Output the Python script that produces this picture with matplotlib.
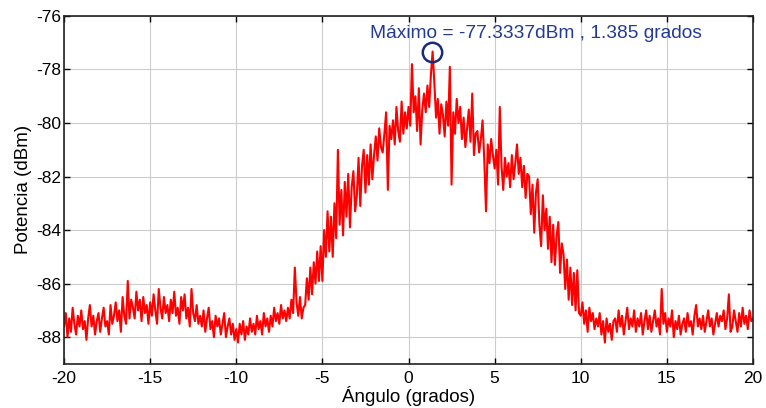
import numpy as np
import matplotlib
matplotlib.use("Agg")
import matplotlib.pyplot as plt

plt.rcParams['font.family'] = ['Liberation Sans', 'DejaVu Sans']
plt.rcParams['axes.unicode_minus'] = False

# Angle grid (grados) from -20 to 20 in 0.1 steps
angle_start, angle_stop, angle_step = -20.0, 20.0, 0.1

# Measured power (dBm), one row per degree
power = [
    -87.6, -87.1, -88.0, -87.3, -87.8, -86.9, -87.5, -87.9, -87.2, -87.6,
    -87.0, -87.7, -87.4, -88.1, -87.3, -86.8, -87.6, -87.2, -87.9, -87.4,
    -87.1, -87.8, -87.3, -86.9, -87.6, -87.4, -87.9, -86.8, -87.5, -87.2,
    -86.7, -87.4, -87.0, -87.8, -86.5, -87.2, -87.5, -85.9, -87.3, -86.6,
    -86.9, -87.3, -86.3, -87.0, -86.6, -87.4, -86.5, -87.1, -86.8, -87.5,
    -86.7, -87.2, -86.4, -87.0, -87.5, -86.2, -86.9, -87.3, -86.5, -87.1,
    -86.8, -87.4, -86.6, -87.1, -86.3, -87.2, -86.9, -87.5, -86.5, -87.0,
    -86.4, -87.3, -86.9, -87.6, -86.2, -87.1, -87.4, -86.8, -87.5, -87.2,
    -87.6, -87.0, -87.8, -87.3, -86.9, -87.7, -87.4, -88.0, -87.2, -87.6,
    -87.3, -87.9, -87.5, -87.1, -88.0, -87.6, -87.3, -87.9, -87.5, -88.1,
    -87.7, -88.2, -87.5, -87.9, -87.4, -88.1, -87.6, -87.9, -87.3, -87.8,
    -87.5, -87.9, -87.2, -87.7, -87.4, -87.9, -87.1, -87.6, -87.3, -87.8,
    -87.2, -87.6, -86.9, -87.4, -87.1, -87.5, -86.8, -87.3, -87.0, -87.4,
    -86.9, -87.3, -86.6, -87.1, -85.4, -86.7, -87.2, -86.5, -87.3, -86.9,
    -86.8, -85.8, -86.6, -85.4, -86.4, -85.2, -86.0, -84.8, -85.9, -84.6,
    -85.9, -84.0, -85.0, -83.3, -84.8, -83.5, -85.0, -83.0, -84.3, -81.0,
    -83.8, -82.5, -84.2, -82.2, -83.5, -81.9, -83.9, -82.4, -81.8, -83.3,
    -82.7, -81.3, -83.1, -81.6, -81.0, -82.6, -81.2, -82.3, -80.8, -82.1,
    -81.2, -80.5, -81.4, -80.2, -80.9, -81.1, -80.4, -79.6, -82.5, -80.1,
    -80.6, -79.9, -80.8, -79.4, -80.3, -80.7, -79.2, -80.4, -79.6, -80.2,
    -79.4, -80.1, -77.8, -79.6, -79.0, -80.3, -78.7, -80.8, -79.5, -78.9,
    -79.6, -78.6, -79.4, -78.2, -77.33, -78.5, -79.8, -79.1, -80.4, -79.3,
    -79.7, -80.5, -79.2, -80.1, -77.9, -82.3, -79.6, -80.4, -79.1, -80.0,
    -79.4, -80.6, -79.8, -80.9, -80.2, -79.5, -80.7, -78.9, -81.2, -80.4,
    -80.3, -81.1, -80.6, -79.9, -81.4, -83.3, -80.8, -81.5, -80.6, -81.2,
    -81.7, -81.0, -82.3, -79.4, -81.6, -82.5, -81.3, -82.0, -81.5, -82.4,
    -81.2, -82.1, -81.5, -80.8, -81.9, -81.3, -82.4, -81.6, -82.8, -81.9,
    -82.0, -83.4, -82.3, -84.1, -82.6, -82.1, -83.8, -84.6, -82.7, -84.0,
    -83.2, -84.7, -83.5, -85.2, -83.8, -85.3, -84.2, -83.7, -85.6, -84.5,
    -84.9, -86.2, -85.1, -86.6, -85.4, -86.8, -85.6, -87.0, -85.5, -87.1,
    -87.2, -86.7, -87.5, -87.0, -87.8, -86.9, -87.4, -87.1, -87.7, -87.3,
    -87.6, -87.1, -87.9, -87.4, -88.2, -87.3, -87.8, -87.5, -88.1, -87.4,
    -87.3, -87.8, -87.0, -87.6, -87.2, -87.9, -87.4, -86.9, -87.7, -87.3,
    -87.6, -87.0, -87.8, -87.3, -87.6, -87.1, -87.9, -87.4, -87.0, -87.7,
    -87.2, -87.8, -87.4, -87.0, -87.6, -87.3, -87.9, -86.2, -87.5, -87.1,
    -87.8, -87.3, -87.6, -87.0, -88.0, -87.4, -87.7, -87.2, -87.9, -87.5,
    -87.3, -87.8, -87.1, -87.6, -87.4, -87.9, -87.2, -86.8, -87.6, -87.3,
    -87.7, -87.2, -87.8, -87.4, -87.0, -87.6, -87.3, -87.9, -87.5, -87.1,
    -87.6, -87.2, -87.4, -87.0, -87.7, -87.3, -86.4, -87.8, -87.6, -87.0,
    -87.4, -87.8, -87.1, -87.6, -86.9, -87.5, -87.2, -87.7, -87.0, -87.4,
    -87.3,
]

peak_angle = 1.385
peak_power = -77.3337
annotation = "Máximo = -77.3337dBm , 1.385 grados"

x_ticks = [-20, -15, -10, -5, 0, 5, 10, 15, 20]
y_ticks = [-88, -86, -84, -82, -80, -78, -76]

angles = np.round(np.arange(len(power)) * angle_step + angle_start, 3)

fig = plt.figure(figsize=(7.66, 4.08), dpi=100)
ax = fig.add_axes([0.0836, 0.108, 0.8994, 0.853])

ax.plot(angles, power, color='#ff0000', linewidth=1.5)
ax.plot([peak_angle], [peak_power], marker='o', markersize=14,
        markerfacecolor='none', markeredgecolor='#1a2a80', markeredgewidth=1.8)
ax.text(-2.25, -76.64, annotation, color='#233a94', fontsize=13.8,
        ha='left', va='center')

ax.set_xlim(-20, 20)
ax.set_ylim(-89, -76)
ax.set_xticks(x_ticks)
ax.set_yticks(y_ticks)
ax.tick_params(direction='in', top=True, right=True, labelsize=12.5, length=4,
               width=1.0)
ax.tick_params(axis='y', pad=2)
ax.tick_params(axis='x', pad=5)
ax.grid(True, color='#cccccc', linewidth=0.8, linestyle='-')
ax.set_axisbelow(True)
for s in ax.spines.values():
    s.set_linewidth(1.2)
    s.set_color('#222222')

ax.set_xlabel("Ángulo (grados)", fontsize=13.5, labelpad=0)
ax.set_ylabel("Potencia (dBm)", fontsize=13.5, labelpad=3)

fig.savefig("out.png", dpi=100)
